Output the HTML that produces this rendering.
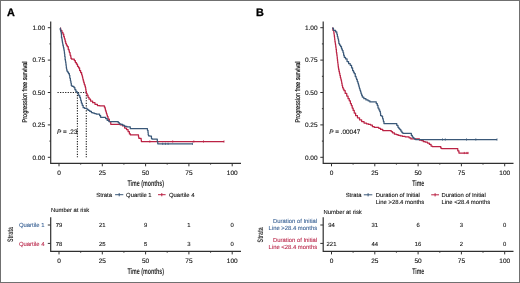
<!DOCTYPE html>
<html><head><meta charset="utf-8"><title>Kaplan-Meier curves</title>
<style>
html,body{margin:0;padding:0;background:#fff;}
body{width:520px;height:283px;overflow:hidden;}
svg{display:block;will-change:transform;}
text{font-family:"Liberation Sans",sans-serif;fill:#111;text-rendering:geometricPrecision;}
.tk{font-size:6.5px;stroke:#111;stroke-width:0.12px;}
.rt{font-size:5.9px;stroke:#111;stroke-width:0.1px;}
.lg{font-size:5.9px;stroke:#111;stroke-width:0.1px;}
.pv{font-size:6.4px;stroke:#111;stroke-width:0.1px;}
.yt{font-size:6.9px;stroke:#111;stroke-width:0.22px;}
.xt{font-size:8.2px;font-weight:bold;fill:#2a2a2a;}
.st{font-size:8.1px;font-weight:bold;fill:#3a3a3a;}
.pl{font-size:10.8px;font-weight:bold;fill:#000;stroke:#000;stroke-width:0.3px;}
</style></head>
<body>
<svg width="520" height="283" viewBox="0 0 520 283">
<rect x="0" y="0" width="520" height="283" fill="#fff"/>
<rect x="0.5" y="0.5" width="519" height="282" fill="none" stroke="#707070" stroke-width="1"/>
<text x="7.0" y="15.7" class="pl">A</text>
<text x="256.0" y="16.2" class="pl">B</text>
<path d="M50.70 21.4V163.4H241.0" fill="none" stroke="#303030" stroke-width="1.2"/>
<path d="M47.8 27.7H50.7" stroke="#303030" stroke-width="1"/>
<text x="45.1" y="30.1" class="tk" text-anchor="end">1.00</text>
<path d="M49.4 43.9H50.7" stroke="#303030" stroke-width="1"/>
<path d="M47.8 60.1H50.7" stroke="#303030" stroke-width="1"/>
<text x="45.1" y="62.4" class="tk" text-anchor="end">0.75</text>
<path d="M49.4 76.3H50.7" stroke="#303030" stroke-width="1"/>
<path d="M47.8 92.5H50.7" stroke="#303030" stroke-width="1"/>
<text x="45.1" y="94.8" class="tk" text-anchor="end">0.50</text>
<path d="M49.4 108.7H50.7" stroke="#303030" stroke-width="1"/>
<path d="M47.8 124.9H50.7" stroke="#303030" stroke-width="1"/>
<text x="45.1" y="127.2" class="tk" text-anchor="end">0.25</text>
<path d="M49.4 141.1H50.7" stroke="#303030" stroke-width="1"/>
<path d="M47.8 157.3H50.7" stroke="#303030" stroke-width="1"/>
<text x="45.1" y="159.6" class="tk" text-anchor="end">0.00</text>
<path d="M59.0 163.3V166.3" stroke="#303030" stroke-width="1"/>
<text x="59.0" y="175.0" class="tk" text-anchor="middle">0</text>
<path d="M80.7 163.3V164.6" stroke="#303030" stroke-width="1"/>
<path d="M102.3 163.3V166.3" stroke="#303030" stroke-width="1"/>
<text x="102.3" y="175.0" class="tk" text-anchor="middle">25</text>
<path d="M123.9 163.3V164.6" stroke="#303030" stroke-width="1"/>
<path d="M145.6 163.3V166.3" stroke="#303030" stroke-width="1"/>
<text x="145.6" y="175.0" class="tk" text-anchor="middle">50</text>
<path d="M167.2 163.3V164.6" stroke="#303030" stroke-width="1"/>
<path d="M188.9 163.3V166.3" stroke="#303030" stroke-width="1"/>
<text x="188.9" y="175.0" class="tk" text-anchor="middle">75</text>
<path d="M210.6 163.3V164.6" stroke="#303030" stroke-width="1"/>
<path d="M232.2 163.3V166.3" stroke="#303030" stroke-width="1"/>
<text x="232.2" y="175.0" class="tk" text-anchor="middle">100</text>
<text transform="translate(27.0 92) rotate(-90)" class="yt" text-anchor="middle" textLength="61" lengthAdjust="spacingAndGlyphs">Progression free survival</text>
<text x="145.7" y="185.8" class="xt" text-anchor="middle" textLength="36.6" lengthAdjust="spacingAndGlyphs">Time (months)</text>
<path d="M57.5 92.5H86.5" fill="none" stroke="#1a1a1a" stroke-width="1.1" stroke-dasharray="1.2 1.35"/>
<path d="M77.4 92.5V157.3M86.3 92.5V157.3" fill="none" stroke="#1a1a1a" stroke-width="1.1" stroke-dasharray="1.2 1.35"/>
<path d="M60.00 28.10H60.60V30.30H61.20H61.85V32.40H62.50H62.90V34.00H63.30H63.75V36.70H64.20H64.40V38.25H64.80V39.80H65.00H65.25V41.70H65.75V43.60H66.00H66.40V45.10H66.80H67.25V46.70H67.70H68.25V49.40H68.80H69.00V50.95H69.40V52.50H69.60H70.10V55.20H70.60H70.72V56.80H70.97V58.40H71.10H71.65V59.20H72.20H73.80H74.30V60.50H74.80H75.35V62.60H75.90H76.45V64.20H77.00H77.50V66.30H78.00H78.55V67.90H79.10H79.60V70.60H80.10H80.65V72.70H81.20H81.65V74.80H82.10H82.25V76.30H82.55V77.80H82.70H82.90V79.35H83.30V80.90H83.50H83.78V82.65H84.32V84.40H84.60H84.85V85.95H85.35V87.50H85.60H85.72V89.40H85.97V91.30H86.10H86.40V93.40H86.70H87.05V95.20H87.40H88.00V97.30H88.60H89.05V99.20H89.50H90.55V101.00H91.60H92.65V102.70H93.70H94.95V104.30H96.20H97.40V105.60H98.60H99.90V105.90H101.20H103.90H104.40V107.20H104.90H105.08V108.70H105.42V110.20H105.60H105.88V111.85H106.42V113.50H106.70H106.92V115.00H107.38V116.50H107.60H108.05V119.00H108.50H109.30V121.50H110.10H110.75V124.30H111.40H118.80H120.10V124.80H121.40H122.50V125.90H123.60H124.65V128.00H125.70H126.50V129.60H127.30H128.10V131.70H128.90H129.40V133.90H129.90H130.45V134.90H131.00H138.30H138.50V137.10H138.70H138.95V138.40H139.20H141.00H141.12V140.00H141.38V141.50H141.50H224.00" fill="none" stroke="#bb2244" stroke-width="1.25" stroke-linejoin="round"/>
<path d="M60.00 28.10H60.25V29.75H60.75V31.40H61.00H61.12V32.95H61.38V34.50H61.50V37.70H61.92V39.30H62.17V40.90H62.30H62.42V42.50H62.67V44.10H62.80H63.00V45.70H63.40V47.30H63.60H63.75V48.90H64.05V50.50H64.20H64.30V52.25H64.50V54.00H64.60H64.75V56.50H64.90H65.10V59.40H65.30H65.42V61.00H65.67V62.60H65.80H65.90V64.20H66.10V65.80H66.20H66.30V67.40H66.50V69.00H66.60H66.90V71.10H67.20H67.60V72.10H68.00H68.50V73.70H69.00H69.40V75.30H69.80V78.00H70.40V80.80H70.70H70.90V83.10H71.30V85.40H71.50H71.95V86.30H72.40H73.40H73.95V87.50H74.50H74.90V89.70H75.30H75.85V91.30H76.40H76.95V92.30H77.50H77.85V93.90H78.20H78.75V95.50H79.30H79.80V97.40H80.30H80.45V98.95H80.75V100.50H80.90H81.35V103.00H81.80H82.20V105.30H82.60H83.15V107.70H83.70H84.50V108.30H85.30H86.60H87.00V109.30H87.40H88.20V110.40H89.00H89.80V111.40H90.60H91.40V112.50H92.20H93.00V113.00H93.80H94.60V113.60H95.40H96.20V114.10H97.00H99.10H99.60V115.70H100.10H100.65V117.30H101.20H102.80H104.90H105.65V118.60H106.40H107.20V120.40H108.00H108.90V121.50H109.80H111.40H117.70H118.25V122.70H118.80H119.30V123.80H119.80H120.90V124.30H122.00H122.80V125.40H123.60H124.65V126.40H125.70H127.00V126.80H128.30H129.90H130.25V128.70H130.60H147.00H147.45V130.30H147.90H148.00V132.55H148.20V134.80H148.30H148.55V135.80H148.80H149.95V136.20H151.10H151.45V138.50H151.80H152.15V139.20H152.50H157.10H157.30V141.30H157.50H157.75V143.80H158.00H192.50" fill="none" stroke="#3a5878" stroke-width="1.25" stroke-linejoin="round"/>
<path d="M149.8 140.4V142.6M172.7 140.4V142.6M193.8 140.4V142.6M203.5 140.4V142.6M224.0 140.4V142.6" stroke="#bb2244" stroke-width="0.8" fill="none"/>
<path d="M162.7 142.7V144.9M165.4 142.7V144.9M168.1 142.7V144.9M192.5 142.7V144.9" stroke="#3a5878" stroke-width="0.8" fill="none"/>
<text x="57.0" y="133.8" class="pv"><tspan font-style="italic">P</tspan> = .23</text>
<text x="96.3" y="196.7" class="lg">Strata</text>
<path d="M115.1 194.7H123.3M119.2 193.1V196.3" stroke="#3a5878" stroke-width="1.0" fill="none"/>
<text x="126.1" y="196.7" class="lg">Quartile 1</text>
<path d="M158.0 194.7H165.6M161.8 193.1V196.3" stroke="#bb2244" stroke-width="1.0" fill="none"/>
<text x="169.0" y="196.7" class="lg">Quartile 4</text>
<text x="51.0" y="212.1" class="rt">Number at risk</text>
<path d="M50.70 217.3V251.4H241.0" fill="none" stroke="#303030" stroke-width="1.2"/>
<path d="M47.8 225.0H50.7" stroke="#303030" stroke-width="1"/>
<path d="M47.8 243.4H50.7" stroke="#303030" stroke-width="1"/>
<path d="M59.0 251.4V254.4" stroke="#303030" stroke-width="1"/>
<text x="59.0" y="263.2" class="tk" text-anchor="middle">0</text>
<path d="M80.7 251.4V252.7" stroke="#303030" stroke-width="1"/>
<text x="59.0" y="227.2" class="rt" text-anchor="middle">79</text>
<text x="59.0" y="245.6" class="rt" text-anchor="middle">78</text>
<path d="M102.3 251.4V254.4" stroke="#303030" stroke-width="1"/>
<text x="102.3" y="263.2" class="tk" text-anchor="middle">25</text>
<path d="M123.9 251.4V252.7" stroke="#303030" stroke-width="1"/>
<text x="102.3" y="227.2" class="rt" text-anchor="middle">21</text>
<text x="102.3" y="245.6" class="rt" text-anchor="middle">25</text>
<path d="M145.6 251.4V254.4" stroke="#303030" stroke-width="1"/>
<text x="145.6" y="263.2" class="tk" text-anchor="middle">50</text>
<path d="M167.2 251.4V252.7" stroke="#303030" stroke-width="1"/>
<text x="145.6" y="227.2" class="rt" text-anchor="middle">9</text>
<text x="145.6" y="245.6" class="rt" text-anchor="middle">5</text>
<path d="M188.9 251.4V254.4" stroke="#303030" stroke-width="1"/>
<text x="188.9" y="263.2" class="tk" text-anchor="middle">75</text>
<path d="M210.6 251.4V252.7" stroke="#303030" stroke-width="1"/>
<text x="188.9" y="227.2" class="rt" text-anchor="middle">1</text>
<text x="188.9" y="245.6" class="rt" text-anchor="middle">3</text>
<path d="M232.2 251.4V254.4" stroke="#303030" stroke-width="1"/>
<text x="232.2" y="263.2" class="tk" text-anchor="middle">100</text>
<text x="232.2" y="227.2" class="rt" text-anchor="middle">0</text>
<text x="232.2" y="245.6" class="rt" text-anchor="middle">0</text>
<text x="44.5" y="227.1" class="rt" text-anchor="end" style="fill:#3c6496;stroke:#3c6496">Quartile 1</text>
<text x="44.5" y="245.5" class="rt" text-anchor="end" style="fill:#bb2a4d;stroke:#bb2a4d">Quartile 4</text>
<text x="145.7" y="273.9" class="xt" text-anchor="middle" textLength="36.6" lengthAdjust="spacingAndGlyphs">Time (months)</text>
<text transform="translate(13.3 234.5) rotate(-90)" class="st" text-anchor="middle" textLength="15" lengthAdjust="spacingAndGlyphs">Strata</text>
<path d="M323.20 21.4V163.4H513.5" fill="none" stroke="#303030" stroke-width="1.2"/>
<path d="M320.3 27.7H323.2" stroke="#303030" stroke-width="1"/>
<text x="317.6" y="30.1" class="tk" text-anchor="end">1.00</text>
<path d="M321.9 43.9H323.2" stroke="#303030" stroke-width="1"/>
<path d="M320.3 60.1H323.2" stroke="#303030" stroke-width="1"/>
<text x="317.6" y="62.4" class="tk" text-anchor="end">0.75</text>
<path d="M321.9 76.3H323.2" stroke="#303030" stroke-width="1"/>
<path d="M320.3 92.5H323.2" stroke="#303030" stroke-width="1"/>
<text x="317.6" y="94.8" class="tk" text-anchor="end">0.50</text>
<path d="M321.9 108.7H323.2" stroke="#303030" stroke-width="1"/>
<path d="M320.3 124.9H323.2" stroke="#303030" stroke-width="1"/>
<text x="317.6" y="127.2" class="tk" text-anchor="end">0.25</text>
<path d="M321.9 141.1H323.2" stroke="#303030" stroke-width="1"/>
<path d="M320.3 157.3H323.2" stroke="#303030" stroke-width="1"/>
<text x="317.6" y="159.6" class="tk" text-anchor="end">0.00</text>
<path d="M331.5 163.3V166.3" stroke="#303030" stroke-width="1"/>
<text x="331.5" y="175.0" class="tk" text-anchor="middle">0</text>
<path d="M353.1 163.3V164.6" stroke="#303030" stroke-width="1"/>
<path d="M374.8 163.3V166.3" stroke="#303030" stroke-width="1"/>
<text x="374.8" y="175.0" class="tk" text-anchor="middle">25</text>
<path d="M396.4 163.3V164.6" stroke="#303030" stroke-width="1"/>
<path d="M418.1 163.3V166.3" stroke="#303030" stroke-width="1"/>
<text x="418.1" y="175.0" class="tk" text-anchor="middle">50</text>
<path d="M439.8 163.3V164.6" stroke="#303030" stroke-width="1"/>
<path d="M461.4 163.3V166.3" stroke="#303030" stroke-width="1"/>
<text x="461.4" y="175.0" class="tk" text-anchor="middle">75</text>
<path d="M483.0 163.3V164.6" stroke="#303030" stroke-width="1"/>
<path d="M504.7 163.3V166.3" stroke="#303030" stroke-width="1"/>
<text x="504.7" y="175.0" class="tk" text-anchor="middle">100</text>
<text transform="translate(299.5 92) rotate(-90)" class="yt" text-anchor="middle" textLength="61" lengthAdjust="spacingAndGlyphs">Progression free survival</text>
<text x="418.2" y="185.8" class="xt" text-anchor="middle" textLength="12" lengthAdjust="spacingAndGlyphs">Time</text>
<path d="M332.10 28.20H332.90V30.30H333.70H333.77V31.90H333.93V33.50H334.00H334.12V35.10H334.38V36.70H334.50H334.57V38.25H334.73V39.80H334.80H334.93V41.40H335.18V43.00H335.30H335.43V44.60H335.68V46.20H335.80H335.90V47.80H336.10V49.40H336.20H336.40V52.30H336.60H336.70V53.90H336.90V55.50H337.00H337.10V57.25H337.30V59.00H337.40H337.50V60.80H337.70V62.60H337.80H337.92V64.37H338.15V66.13H338.38V67.90H338.50H338.68V69.67H339.05V71.43H339.42V73.20H339.60H339.85V75.35H340.35V77.50H340.60H340.80V79.00H341.20V80.50H341.40H341.52V82.00H341.77V83.50H341.90H342.12V85.50H342.57V87.50H342.80H343.20V89.10H344.00V90.70H344.40H345.20V93.40H346.00H346.75V96.00H347.50H348.05V98.70H348.60H349.25V100.80H349.90H350.40V103.50H350.90H351.35V105.60H351.80H352.20V108.00H352.60H353.15V110.40H353.70H354.25V113.00H354.80H355.60V115.70H356.40H357.45V117.80H358.50H359.55V119.90H360.60H361.65V121.50H362.70H364.05V123.10H365.40H366.45V123.80H367.50H368.55V124.40H369.60H370.60V125.10H371.60H372.40V126.70H373.20H374.25V127.30H375.30H378.00H378.75V128.30H379.50H380.60V129.40H381.70H382.75V130.50H383.80H385.90H390.70H391.20V131.50H391.70H392.50V132.80H393.30H394.40V134.20H395.50H396.30V134.60H397.10H398.15V135.40H399.20H400.30V135.90H401.40H402.45V136.40H403.50H405.10V136.80H406.70H408.30H409.05V137.80H409.80H410.90V138.90H412.00H414.10H416.20H418.30H419.40V140.10H420.50H421.50V140.60H422.50H423.35V141.70H424.20H425.30V142.20H426.40H427.45V143.00H428.50H429.35V144.30H430.20H431.05V146.00H431.90H432.30V146.60H432.70H440.30H440.75V148.10H441.20H441.60V148.60H442.00H457.20H457.77V150.80H458.93V153.00H459.50H468.10" fill="none" stroke="#bb2244" stroke-width="1.25" stroke-linejoin="round"/>
<path d="M332.10 28.20H333.45V30.30H334.80H335.60V31.90H336.40H336.80V34.00H337.20H337.40V36.70H337.60H337.95V38.80H338.30H338.50V40.90H338.70H338.85V43.60H339.00H339.55V45.10H340.10H340.60V46.70H341.10H341.50V48.90H341.90H342.30V50.50H342.70H343.05V52.50H343.40H343.60V55.20H343.80H344.25V57.30H344.70H345.50V58.90H346.30H347.05V61.50H347.80H348.60V63.70H349.40H350.20V65.30H351.00H351.55V67.90H352.10H352.60V70.60H353.10H353.50V72.15H354.30V73.70H354.70H355.25V76.40H355.80H356.07V78.00H356.62V79.60H356.90H357.30V81.50H357.70H357.95V83.20H358.45V84.90H358.70H358.95V86.75H359.45V88.60H359.70H359.98V90.20H360.52V91.80H360.80H361.05V93.50H361.55V95.20H361.80H362.30V97.10H362.80H363.85V98.70H364.90H365.95V99.90H367.00H368.05V100.80H369.10H369.90V101.90H370.70H372.30H375.50H376.25V103.50H377.00H377.30V105.40H377.60H378.00V108.00H378.40H378.95V109.90H379.50H379.77V111.45H380.33V113.00H380.60V115.60H381.50V116.10H382.20H382.55V118.30H382.90H383.07V119.85H383.43V121.40H383.60H383.95V123.60H384.30H385.90H396.00H396.75V125.30H397.50H397.95V127.30H398.40H398.90V128.50H399.40H399.85V129.50H400.30H400.85V131.10H401.40H401.90V132.50H402.40H402.85V133.30H403.30H410.90H411.35V135.40H411.80H412.30V137.00H412.80H413.35V138.00H413.90H414.50V139.00H415.10H415.55V139.50H416.00H497.00" fill="none" stroke="#3a5878" stroke-width="1.25" stroke-linejoin="round"/>
<path d="M464.3 151.9V154.1M466.9 151.9V154.1M468.1 151.9V154.1" stroke="#bb2244" stroke-width="0.8" fill="none"/>
<path d="M442.5 138.4V140.6M445.3 138.4V140.6M466.5 138.4V140.6M475.8 138.4V140.6M497.0 138.4V140.6" stroke="#3a5878" stroke-width="0.8" fill="none"/>
<text x="329.2" y="134.0" class="pv"><tspan font-style="italic">P</tspan> = .00047</text>
<text x="345.7" y="196.6" class="lg">Strata</text>
<path d="M363.8 194.8H372.3M368.1 193.2V196.4" stroke="#3a5878" stroke-width="1.0" fill="none"/>
<text x="375.7" y="196.6" class="lg">Duration of Initial</text>
<text x="375.7" y="204.0" class="lg">Line &gt;28.4 months</text>
<path d="M431.2 194.8H439.0M435.1 193.2V196.4" stroke="#bb2244" stroke-width="1.0" fill="none"/>
<text x="441.5" y="196.6" class="lg">Duration of Initial</text>
<text x="441.5" y="204.0" class="lg">Line &lt;28.4 months</text>
<text x="323.5" y="213.6" class="rt">Number at risk</text>
<path d="M323.20 217.3V251.4H513.5" fill="none" stroke="#303030" stroke-width="1.2"/>
<path d="M320.3 225.0H323.2" stroke="#303030" stroke-width="1"/>
<path d="M320.3 243.4H323.2" stroke="#303030" stroke-width="1"/>
<path d="M331.5 251.4V254.4" stroke="#303030" stroke-width="1"/>
<text x="331.5" y="263.2" class="tk" text-anchor="middle">0</text>
<path d="M353.1 251.4V252.7" stroke="#303030" stroke-width="1"/>
<text x="331.5" y="227.2" class="rt" text-anchor="middle">94</text>
<text x="331.5" y="245.6" class="rt" text-anchor="middle">221</text>
<path d="M374.8 251.4V254.4" stroke="#303030" stroke-width="1"/>
<text x="374.8" y="263.2" class="tk" text-anchor="middle">25</text>
<path d="M396.4 251.4V252.7" stroke="#303030" stroke-width="1"/>
<text x="374.8" y="227.2" class="rt" text-anchor="middle">31</text>
<text x="374.8" y="245.6" class="rt" text-anchor="middle">44</text>
<path d="M418.1 251.4V254.4" stroke="#303030" stroke-width="1"/>
<text x="418.1" y="263.2" class="tk" text-anchor="middle">50</text>
<path d="M439.8 251.4V252.7" stroke="#303030" stroke-width="1"/>
<text x="418.1" y="227.2" class="rt" text-anchor="middle">6</text>
<text x="418.1" y="245.6" class="rt" text-anchor="middle">16</text>
<path d="M461.4 251.4V254.4" stroke="#303030" stroke-width="1"/>
<text x="461.4" y="263.2" class="tk" text-anchor="middle">75</text>
<path d="M483.0 251.4V252.7" stroke="#303030" stroke-width="1"/>
<text x="461.4" y="227.2" class="rt" text-anchor="middle">3</text>
<text x="461.4" y="245.6" class="rt" text-anchor="middle">2</text>
<path d="M504.7 251.4V254.4" stroke="#303030" stroke-width="1"/>
<text x="504.7" y="263.2" class="tk" text-anchor="middle">100</text>
<text x="504.7" y="227.2" class="rt" text-anchor="middle">0</text>
<text x="504.7" y="245.6" class="rt" text-anchor="middle">0</text>
<text x="317.2" y="223.3" class="rt" text-anchor="end" style="fill:#3c6496;stroke:#3c6496">Duration of Initial</text>
<text x="317.2" y="230.4" class="rt" text-anchor="end" style="fill:#3c6496;stroke:#3c6496">Line &gt;28.4 months</text>
<text x="317.2" y="241.7" class="rt" text-anchor="end" style="fill:#bb2a4d;stroke:#bb2a4d">Duration of Initial</text>
<text x="317.2" y="248.5" class="rt" text-anchor="end" style="fill:#bb2a4d;stroke:#bb2a4d">Line &lt;28.4 months</text>
<text x="418.2" y="273.9" class="xt" text-anchor="middle" textLength="12" lengthAdjust="spacingAndGlyphs">Time</text>
<text transform="translate(262.6 234.9) rotate(-90)" class="st" text-anchor="middle" textLength="15" lengthAdjust="spacingAndGlyphs">Strata</text>
</svg>
</body></html>
